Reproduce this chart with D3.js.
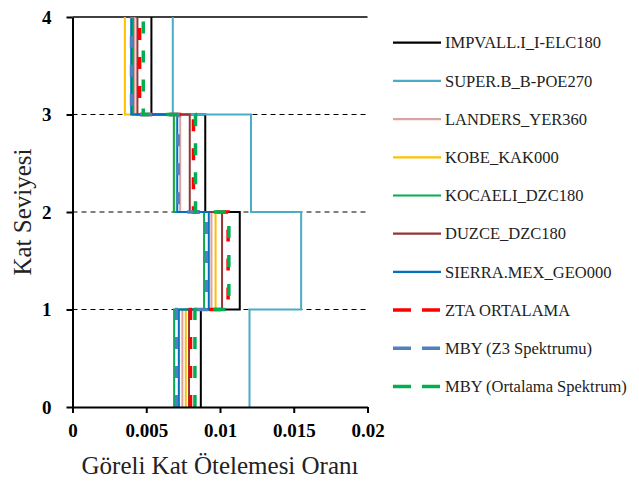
<!DOCTYPE html>
<html>
<head>
<meta charset="utf-8">
<script src="https://cdn.jsdelivr.net/npm/d3@7"></script>
<style>
  body { margin: 0; background: #fff; }
  svg { display: block; }
  text { font-family: 'Liberation Serif', 'Times New Roman', Times, 'DejaVu Serif', serif; }
</style>
</head>
<body>
<svg id="chart" width="639" height="489"></svg>
<script>
// drift ratio per storey (storey 1 .. 4)
const storeys = [1, 2, 3, 4];
const xTicks = [0, 0.005, 0.01, 0.015, 0.02];
const yTicks = [0, 1, 2, 3, 4];

const seriesNames = [
  'IMPVALL.I_I-ELC180', 'SUPER.B_B-POE270', 'LANDERS_YER360', 'KOBE_KAK000',
  'KOCAELI_DZC180', 'DUZCE_DZC180', 'SIERRA.MEX_GEO000', 'ZTA ORTALAMA',
  'MBY (Z3 Spektrumu)', 'MBY (Ortalama Spektrum)'
];
const impvall = [0.0087, 0.01134, 0.0090, 0.00535];
const superB  = [0.0120, 0.0155, 0.0121, 0.0068];
const landers = [0.00745, 0.00942, 0.0073, 0.0042];
const kobe    = [0.00768, 0.0097, 0.0069, 0.00355];
const kocaeli = [0.00689, 0.00892, 0.00687, 0.0041];
const duzce   = [0.0079, 0.01014, 0.00795, 0.0044];
const sierra  = [0.00721, 0.00924, 0.0071, 0.00398];
const ztaMean = [0.0080, 0.01055, 0.0082, 0.00455];
const mbyZ3   = [0.00705, 0.00908, 0.00716, 0.0040];
const mbyMean = [0.0083, 0.0106, 0.00834, 0.0048];

const seriesValues = [impvall, superB, landers, kobe, kocaeli, duzce, sierra, ztaMean, mbyZ3, mbyMean];
const colors = ['#000000', '#4bacc6', '#d9a3a3', '#ffc000', '#00b050', '#943634', '#0070c0', '#ff0000', '#4f81bd', '#00b050'];
const dashed = [false, false, false, false, false, false, false, true, true, true];

const svg = d3.select('#chart');
const x = d3.scaleLinear().domain([0, 0.02]).range([72.5, 367.5]);
const y = d3.scaleLinear().domain([0, 4]).range([407, 17]);
const serif = "'Liberation Serif', 'Times New Roman', Times, 'DejaVu Serif', serif";

// gridlines
svg.append('g').selectAll('line').data([1, 2, 3]).join('line')
  .attr('x1', x(0)).attr('x2', x(0.02))
  .attr('y1', d => y(d)).attr('y2', d => y(d))
  .attr('stroke', '#000').attr('stroke-width', 1).attr('stroke-dasharray', '5,4');
svg.append('line')
  .attr('x1', x(0)).attr('x2', x(0.02)).attr('y1', y(4)).attr('y2', y(4))
  .attr('stroke', '#000').attr('stroke-width', 1.3);

// step profiles
const line = d3.line().x(d => x(d[0])).y(d => y(d[1]));
function steps(vals) {
  const pts = [];
  vals.forEach((v, i) => { pts.push([v, storeys[i] - 1]); pts.push([v, storeys[i]]); });
  return pts;
}
svg.append('g').selectAll('path').data(seriesValues).join('path')
  .attr('d', d => line(steps(d)))
  .attr('fill', 'none')
  .attr('stroke', (d, i) => colors[i])
  .attr('stroke-width', (d, i) => dashed[i] ? 3.5 : 2)
  .attr('stroke-dasharray', (d, i) => dashed[i] ? '12,17' : null);

// axes
const xAxis = svg.append('g').attr('transform', `translate(0,${y(0)})`)
  .call(d3.axisBottom(x).tickValues(xTicks).tickFormat(d => d === 0 ? '0' : String(+d.toFixed(3))).tickSize(6).tickSizeOuter(0));
const yAxis = svg.append('g').attr('transform', `translate(${x(0)},0)`)
  .call(d3.axisLeft(y).tickValues(yTicks).tickFormat(d3.format('d')).tickSize(6).tickSizeOuter(0));
[xAxis, yAxis].forEach(a => {
  a.attr('font-family', null);
  a.select('.domain').attr('stroke', '#000').attr('stroke-width', 2);
  a.selectAll('.tick line').attr('stroke', '#000').attr('stroke-width', 2);
  a.selectAll('.tick text').attr('fill', '#000')
    .style('font-family', serif).style('font-weight', 'bold').style('font-size', '19px');
});
xAxis.selectAll('.tick text').attr('dy', '1.1em');
yAxis.selectAll('.tick text').attr('x', -21);

svg.append('text')
  .attr('x', (x(0) + x(0.02)) / 2).attr('y', 474)
  .attr('text-anchor', 'middle')
  .style('font-family', serif).style('font-size', '25px').attr('fill', '#222')
  .text('Göreli Kat Ötelemesi Oranı');
svg.append('text')
  .attr('transform', `translate(31,${(y(0) + y(4)) / 2}) rotate(-90)`)
  .attr('text-anchor', 'middle')
  .style('font-family', serif).style('font-size', '25px').attr('fill', '#222')
  .text('Kat Seviyesi');

// legend
const legend = svg.append('g').selectAll('g').data(seriesNames).join('g')
  .attr('transform', (d, i) => `translate(393,${42.7 + i * 38.2})`);
legend.append('line')
  .attr('x1', 0).attr('x2', 48)
  .attr('stroke', (d, i) => colors[i])
  .attr('stroke-width', (d, i) => dashed[i] ? 3.5 : 2.2)
  .attr('stroke-dasharray', (d, i) => dashed[i] ? '18,11' : null);
legend.append('text')
  .attr('x', 52).attr('dy', '0.35em')
  .style('font-family', serif).style('font-size', '16.5px').attr('fill', '#222')
  .text(d => d);
</script>
</body>
</html>
